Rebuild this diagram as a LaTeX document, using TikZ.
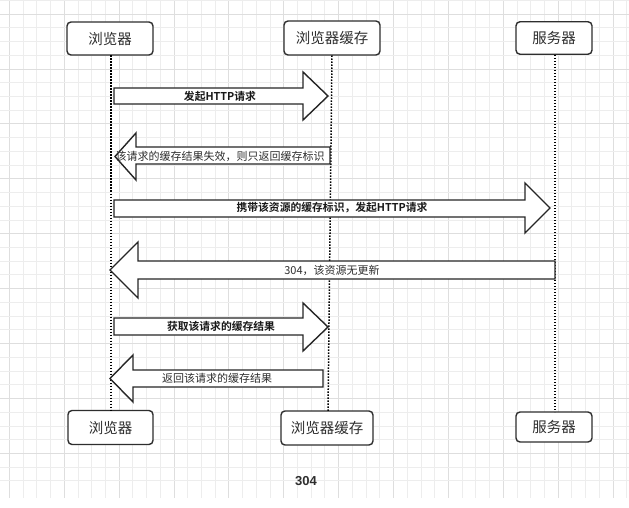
\documentclass[tikz,border=0pt]{standalone}
\usepackage{fontspec}
\newfontfamily\cjk{Noto Sans CJK SC}[BoldFont={Noto Sans CJK SC Bold}]
\newfontfamily\arialb{Liberation Sans}
\definecolor{gridminor}{HTML}{EDEDED}
\definecolor{gridmajor}{HTML}{DEDEDE}
\definecolor{txt}{HTML}{2E2E2E}
\newcommand\blockarrow[7]{%
  \draw[arrowshape] (#1,#4) -- (#2,#4) -- (#2,#6) -- (#3,{(#6+#7)/2}) -- (#2,#7) -- (#2,#5) -- (#1,#5) -- cycle;}
\begin{document}
\begin{tikzpicture}[x=1pt,y=-1pt,
  actor/.style={draw=txt,line width=1.4pt,rounded corners=4pt,fill=white,inner sep=0pt,
    font=\cjk\fontsize{14.5}{16}\selectfont,text=txt},
  lifeline/.style={line width=1.5pt,dash pattern=on 1.4pt off 1.6pt,black},
  arrowshape/.style={draw=black!85,line width=1.4pt,fill=white,line join=miter},
  boldlbl/.style={font=\cjk\bfseries\fontsize{10.8}{12}\selectfont,text=black!90,inner sep=0pt},
  lbl/.style={font=\cjk\fontsize{11}{12}\selectfont,text=txt,inner sep=0pt}]
\useasboundingbox (0,0) rectangle (629,508);
\fill[white] (0,0) rectangle (629,508);
% grid
\foreach \i in {0,...,45} {
  \pgfmathtruncatemacro\m{mod(\i,4)}
  \ifnum\m=0 \def\gc{gridmajor}\else\def\gc{gridminor}\fi
  \draw[\gc,line width=0.8pt] ({9.3+13.72*\i},0) -- ({9.3+13.72*\i},498);
}
\foreach \j in {0,...,35} {
  \pgfmathtruncatemacro\m{mod(\j+3,4)}
  \ifnum\m=0 \def\gc{gridmajor}\else\def\gc{gridminor}\fi
  \draw[\gc,line width=0.8pt] (0,{0.27+13.73*\j}) -- (629,{0.27+13.73*\j});
}
% actors
\node[actor,minimum width=86pt,minimum height=33pt] (b1) at (110,38.5) {浏览器};
\node[actor,minimum width=96pt,minimum height=34pt] (c1) at (332,38) {浏览器缓存};
\node[actor,minimum width=76pt,minimum height=32.5pt] (s1) at (554,38) {服务器};
\node[actor,minimum width=85pt,minimum height=34pt] (b2) at (110.5,427.5) {浏览器};
\node[actor,minimum width=92pt,minimum height=34pt] (c2) at (327,428) {浏览器缓存};
\node[actor,minimum width=76pt,minimum height=30pt] (s2) at (554,427) {服务器};
% lifelines
\coordinate (bt) at (111,55.5); \coordinate (bb) at (111,410);
\coordinate (ct) at (332,55.5); \coordinate (cb) at (328,411);
\coordinate (st) at (555,55); \coordinate (sb) at (555,412);
\draw[lifeline] (bt) -- (bb);
\draw[lifeline] (ct) -- (cb);
\draw[lifeline] (st) -- (sb);
% block arrows
\blockarrow{114}{303}{328}{88}{104}{72}{120}
\blockarrow{330}{136}{115}{147}{164}{133}{180}
\blockarrow{114}{525}{550}{200}{217}{183}{233}
\blockarrow{555}{138}{110}{261}{279}{242}{298}
\blockarrow{114}{303}{328}{318}{335}{303}{351}
\blockarrow{323}{133}{110}{370}{387}{355}{402}
% labels
\node[boldlbl] (l1) at (220,96) {发起HTTP请求};
\node[lbl] (l2) at (220,156) {该请求的缓存结果失效，则只返回缓存标识};
\node[boldlbl] (l3) at (332,208) {携带该资源的缓存标识，发起HTTP请求};
\node[lbl] (l4) at (332,270) {304，该资源无更新};
\node[boldlbl] (l5) at (221,326.5) {获取该请求的缓存结果};
\node[lbl] (l6) at (217,378) {返回该请求的缓存结果};
\node[font=\arialb\bfseries\fontsize{13}{15}\selectfont,text=txt,inner sep=0pt] (cap) at (306,481) {304};
\end{tikzpicture}
\end{document}
